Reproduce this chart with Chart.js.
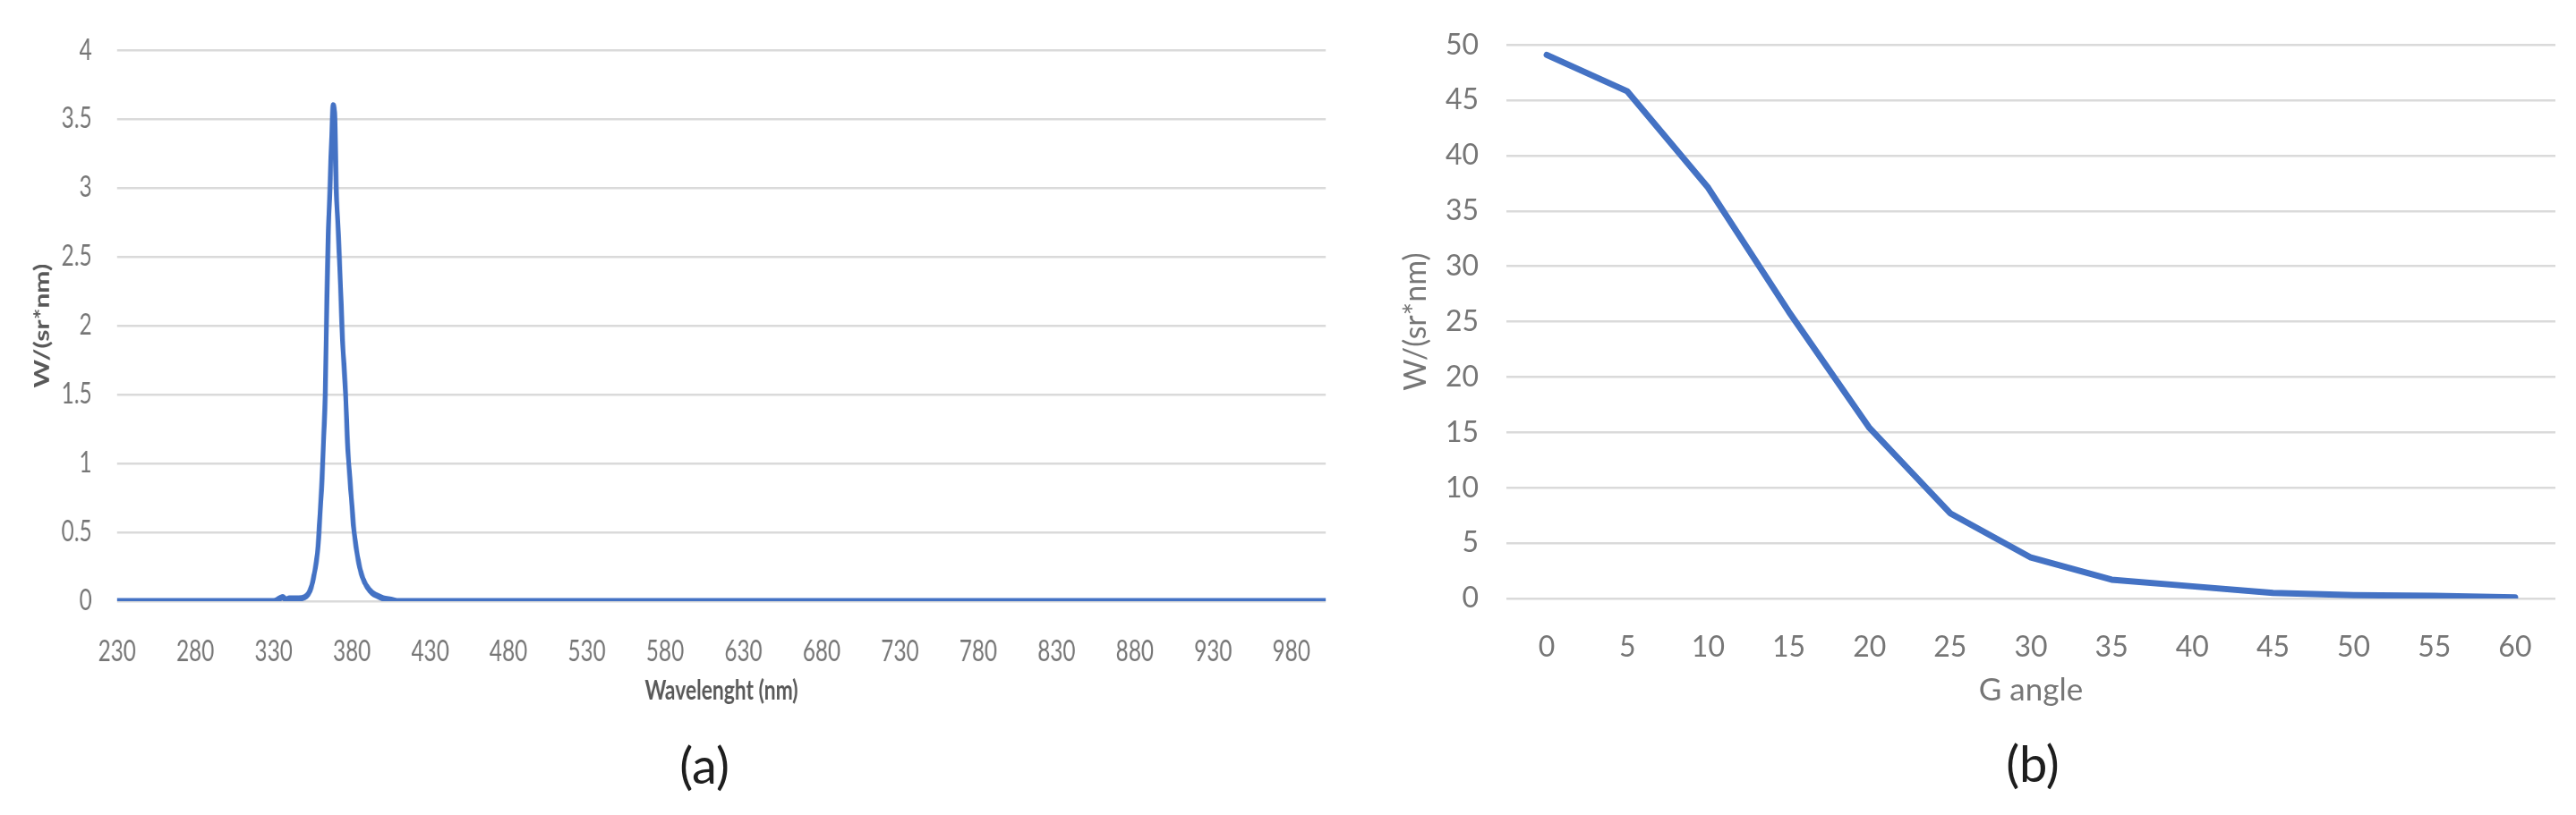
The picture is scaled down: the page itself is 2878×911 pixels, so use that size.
<!DOCTYPE html>
<html>
<head>
<meta charset="utf-8">
<script src="https://cdn.jsdelivr.net/npm/chart.js@4.4.1/dist/chart.umd.min.js"></script>
<style>
  html, body { margin: 0; padding: 0; background: #fff; width: 2878px; height: 911px; overflow: hidden; }
  #spectrum { position: absolute; left: 0; top: 0; transform: scaleX(0.76); transform-origin: 0 0; }
  #angle { position: absolute; left: 1500px; top: 0; }
  .cap { position: absolute; width: 200px; text-align: center; font-family: Lato, sans-serif; font-size: 56px; line-height: 66px; color: #1e1e1e; }
</style>
</head>
<body>
<canvas id="spectrum" width="1974" height="911"></canvas>
<canvas id="angle" width="1378" height="911"></canvas>
<div class="cap" style="left:687px; top:822px;">(a)</div>
<div class="cap" style="left:2171px; top:820px;">(b)</div>
<script>
  // (a) spectrum
  const wavelength = [230, 330, 334, 336, 338, 340, 343, 346, 350, 352, 354, 356, 358, 359, 360, 361, 362, 363, 364, 365, 366, 367, 368, 369, 370, 371, 372, 373, 374, 375, 376, 377, 378, 379, 380, 381, 382, 384, 386, 388, 390, 393, 396, 400, 405, 410, 1002];
  const radiance = [0, 0, 0.02, 0.03, 0.01, 0.02, 0.02, 0.02, 0.03, 0.05, 0.1, 0.2, 0.35, 0.5, 0.7, 0.9, 1.2, 1.5, 2.2, 2.7, 3.0, 3.35, 3.6, 3.55, 3.0, 2.75, 2.5, 2.2, 1.9, 1.7, 1.5, 1.2, 1.0, 0.85, 0.7, 0.55, 0.45, 0.3, 0.2, 0.14, 0.1, 0.06, 0.04, 0.02, 0.01, 0, 0];
  const waveTicks = [230, 280, 330, 380, 430, 480, 530, 580, 630, 680, 730, 780, 830, 880, 930, 980];

  // (b) angular distribution
  const angles = ['0', '5', '10', '15', '20', '25', '30', '35', '40', '45', '50', '55', '60'];
  const angleValues = [49.1, 45.8, 37.1, 25.9, 15.4, 7.7, 3.7, 1.7, 1.1, 0.5, 0.3, 0.25, 0.1];

  Chart.defaults.font.family = 'Lato';
  const tickColor = '#767676';
  const gridColor = '#dadada';
  const lineColor = '#4472C4';

  new Chart(document.getElementById('spectrum'), {
    type: 'line',
    data: {
      datasets: [{
        data: wavelength.map((w, i) => ({ x: w, y: radiance[i] })),
        borderColor: lineColor,
        borderWidth: 7,
        pointRadius: 0,
        cubicInterpolationMode: 'monotone',
        borderJoinStyle: 'round',
        borderCapStyle: 'round'
      }]
    },
    options: {
      responsive: false,
      animation: false,
      devicePixelRatio: 1,
      layout: { padding: { top: 41, right: 25, bottom: 111, left: 0 } },
      plugins: { legend: { display: false }, tooltip: { enabled: false } },
      scales: {
        x: {
          type: 'linear',
          min: 230,
          max: 1002,
          afterBuildTicks: axis => { axis.ticks = waveTicks.map(v => ({ value: v })); },
          afterFit: axis => { axis.height = 128; },
          grid: { display: false },
          border: { display: false },
          ticks: { padding: 29, color: tickColor, font: { size: 32 }, maxRotation: 0, autoSkip: false, callback: v => String(v) },
          title: { display: true, text: 'Wavelenght (nm)', color: '#595959', font: { size: 30, weight: 'bold' }, padding: { top: 0, bottom: 10 } }
        },
        y: {
          min: 0,
          max: 4,
          afterFit: axis => { axis.width = 172; },
          grid: { color: gridColor, lineWidth: 2.5, drawTicks: false },
          border: { display: false },
          ticks: { stepSize: 0.5, padding: 37, color: tickColor, font: { size: 32 }, callback: v => String(v) },
          title: { display: true, text: 'W/(sr*nm)', color: '#595959', font: { size: 30, weight: 'bold' }, padding: { top: 44, bottom: 0 } }
        }
      }
    }
  });

  new Chart(document.getElementById('angle'), {
    type: 'line',
    data: {
      labels: angles,
      datasets: [{
        data: angleValues,
        borderColor: lineColor,
        borderWidth: 7,
        pointRadius: 0,
        tension: 0,
        borderJoinStyle: 'round',
        borderCapStyle: 'round'
      }]
    },
    options: {
      responsive: false,
      animation: false,
      devicePixelRatio: 1,
      layout: { padding: { top: 49, right: 23, bottom: 111, left: 0 } },
      plugins: { legend: { display: false }, tooltip: { enabled: false } },
      scales: {
        x: {
          offset: true,
          afterFit: axis => { axis.height = 131; },
          grid: { display: false },
          border: { display: false },
          ticks: { padding: 27, color: tickColor, font: { size: 32 }, maxRotation: 0, autoSkip: false },
          title: { display: true, text: 'G angle', color: tickColor, font: { size: 35 }, padding: { top: 0, bottom: 7 } }
        },
        y: {
          min: 0,
          max: 50,
          afterFit: axis => { axis.width = 183; },
          grid: { color: gridColor, lineWidth: 2.5, drawTicks: false },
          border: { display: false },
          ticks: { stepSize: 5, padding: 31, color: tickColor, font: { size: 32 } },
          title: { display: true, text: 'W/(sr*nm)', color: tickColor, font: { size: 34 }, padding: { top: 62, bottom: 0 } }
        }
      }
    }
  });
</script>
</body>
</html>
